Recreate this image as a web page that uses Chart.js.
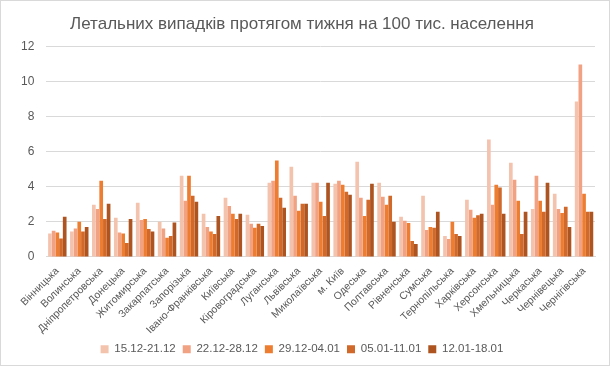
<!DOCTYPE html>
<html>
<head>
<meta charset="utf-8">
<script src="https://cdn.jsdelivr.net/npm/chart.js@4"></script>
<style>
  html, body { margin: 0; padding: 0; background: #fff; }
  #wrap { width: 608px; height: 364px; border: 1px solid #d9d9d9; }
</style>
</head>
<body>
<div id="wrap"><canvas id="chart" width="608" height="364"></canvas></div>
<script>
// regions
const regions = ["Вінницька","Волинська","Дніпропетровська","Донецька","Житомирська","Закарпатська","Запорізька","Івано-Франківська","Київська","Кіровоградська","Луганська","Львівська","Миколаївська","м. Київ","Одеська","Полтавська","Рівненська","Сумська","Тернопільська","Харківська","Херсонська","Хмельницька","Черкаська","Чернівецька","Чернігівська"];

// weeks
const weekLabels = ["15.12-21.12", "22.12-28.12", "29.12-04.01", "05.01-11.01", "12.01-18.01"];
const weekColors = ["#F4C3AE", "#F1A283", "#ED7D31", "#D0692A", "#AD5421"];

// deaths per 100k per week
const w1 = [1.33, 1.45, 2.97, 2.23, 3.09, 2.0, 4.63, 2.46, 3.37, 2.4, 4.23, 5.14, 4.23, 4.17, 5.43, 4.23, 2.29, 3.49, 1.2, 3.26, 6.69, 5.37, 2.74, 3.6, 8.86];
const w2 = [1.49, 1.62, 2.74, 1.39, 2.11, 1.62, 3.2, 1.71, 2.91, 1.89, 4.34, 3.49, 4.23, 4.34, 3.37, 3.43, 2.06, 1.54, 1.03, 2.69, 2.97, 4.4, 4.63, 2.74, 10.97];
const w3 = [1.4, 2.0, 4.34, 1.33, 2.17, 1.09, 4.63, 1.45, 2.46, 1.66, 5.49, 2.63, 3.14, 4.11, 2.34, 2.97, 1.94, 1.71, 2.0, 2.23, 4.11, 3.2, 3.2, 2.51, 3.6];
const w4 = [1.05, 1.45, 2.17, 0.8, 1.6, 1.2, 3.49, 1.31, 2.17, 1.89, 3.37, 3.03, 2.34, 3.71, 3.26, 3.49, 0.91, 1.66, 1.31, 2.38, 3.96, 1.31, 2.57, 2.86, 2.57];
const w5 = [2.29, 1.71, 3.03, 2.17, 1.45, 1.96, 3.14, 2.34, 2.46, 1.77, 2.8, 3.03, 4.23, 3.54, 4.17, 2.0, 0.74, 2.57, 1.2, 2.46, 2.46, 2.57, 4.23, 1.71, 2.57];

const series = [w1, w2, w3, w4, w5];

let datasets = [];
for (let i = 0; i < series.length; i++) {
    datasets.push({
        label: weekLabels[i],
        data: series[i],
        backgroundColor: weekColors[i],
        borderWidth: 0,
        categoryPercentage: 0.84,
        barPercentage: 1.0
    });
}

const txt = "#595959";
const gridCol = "#d9d9d9";

let ctx = document.getElementById('chart');
let graph = new Chart(ctx, {
    type: 'bar',
    data: { labels: regions, datasets: datasets },
    options: {
        responsive: false,
        animation: false,
        layout: { padding: { left: 8, right: 14, top: 9, bottom: 0 } },
        plugins: {
            title: {
                display: true,
                text: "Летальних випадків протягом тижня на 100 тис. населення",
                color: txt,
                font: { family: "Liberation Sans", size: 17, weight: 'normal' },
                padding: { top: 4, bottom: 12 }
            },
            legend: {
                position: 'bottom',
                labels: {
                    color: txt,
                    font: { family: "Liberation Sans", size: 11.5 },
                    boxWidth: 8,
                    boxHeight: 8,
                    padding: 7
                }
            },
            tooltip: { enabled: false }
        },
        scales: {
            x: {
                grid: { display: false },
                border: { display: true, color: gridCol },
                ticks: {
                    color: txt,
                    font: { family: "Liberation Sans", size: 10.5 },
                    minRotation: 45,
                    maxRotation: 45,
                    autoSkip: false,
                    padding: 0
                }
            },
            y: {
                min: 0,
                max: 12,
                grid: { color: gridCol, drawTicks: false },
                border: { display: false },
                ticks: {
                    stepSize: 2,
                    color: txt,
                    font: { family: "Liberation Sans", size: 12 },
                    padding: 12
                }
            }
        }
    }
});
</script>
</body>
</html>
